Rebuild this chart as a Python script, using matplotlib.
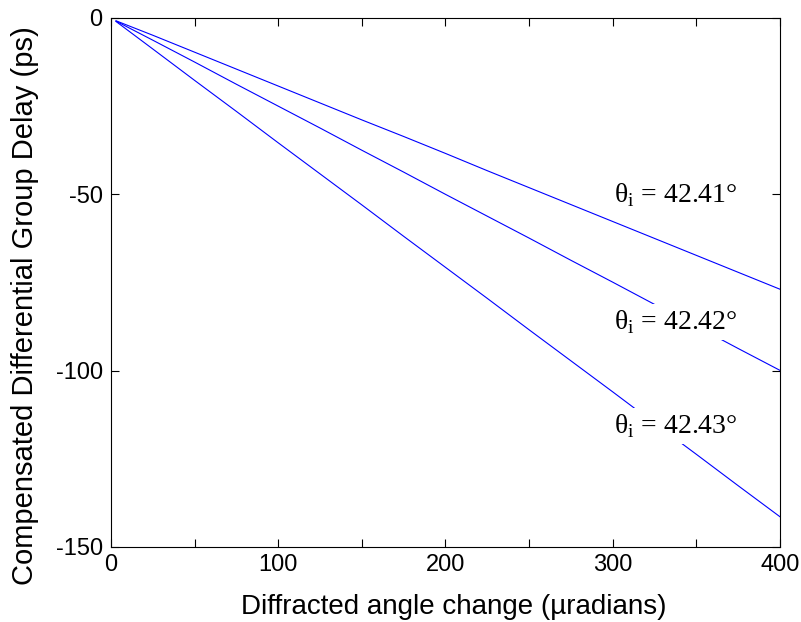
import numpy as np
import matplotlib.pyplot as plt

plt.rcParams['font.family'] = ['Liberation Sans', 'DejaVu Sans']
plt.rcParams['axes.unicode_minus'] = False
plt.rcParams['mathtext.fontset'] = 'custom'
plt.rcParams['mathtext.rm'] = 'Liberation Serif'

# angle change (µradians) and compensated DGD (ps) for three incidence angles
angulo = [3, 25, 50, 75, 100, 125, 150, 175, 200, 225, 250, 275, 300, 325, 350, 375, 400]
dgd_4241 = [-0.8, -4.9, -9.7, -14.5, -19.3, -24.1, -28.9, -33.6, -38.4, -43.3,
            -48.1, -52.9, -57.7, -62.5, -67.3, -72.1, -76.9]
dgd_4242 = [-0.9, -6.3, -12.5, -18.8, -25.0, -31.2, -37.5, -43.7, -50.0, -56.2,
            -62.4, -68.7, -74.9, -81.2, -87.4, -93.7, -99.9]
dgd_4243 = [-1.0, -8.8, -17.7, -26.5, -35.4, -44.2, -53.0, -61.9, -70.7, -79.5,
            -88.4, -97.2, -106.0, -114.9, -123.7, -132.6, -141.4]
rotulos = ['42.41', '42.42', '42.43']
rotulo_y = [-50.2, -86.3, -115.7]

xticks = [0, 50, 100, 150, 200, 250, 300, 350, 400]
xticklabels = ['0', '', '100', '', '200', '', '300', '', '400']
yticks = [0, -50, -100, -150]

fig = plt.figure(figsize=(8.01, 6.22), dpi=100)
ax = fig.add_axes([0.1386, 0.1206, 0.835, 0.8505])

for serie in (dgd_4241, dgd_4242, dgd_4243):
    ax.plot(angulo, serie, color='blue', lw=0.8, zorder=2)

# labels with white background cut the curves like in the original
for r, yl in zip(rotulos, rotulo_y):
    ax.text(301.0, yl, 'θ$_\\mathregular{i}$ = ' + r + '°', family='Liberation Serif',
            fontsize=20, ha='left', va='center', zorder=3,
            bbox=dict(facecolor='white', edgecolor='none', pad=3))

ax.set_xlim(0, 400)
ax.set_ylim(-150, 0)
ax.set_xticks(xticks)
ax.set_xticklabels(xticklabels)
ax.set_yticks(yticks)
ax.tick_params(direction='in', length=5.5, width=0.8, top=True, right=True,
               labelsize=17)
ax.tick_params(axis='x', pad=5)
ax.tick_params(axis='y', pad=6)
for s in ax.spines.values():
    s.set_linewidth(0.8)

ax.set_xlabel('Diffracted angle change (µradians)', fontsize=20)
ax.set_ylabel('Compensated Differential Group Delay (ps)', fontsize=21)
ax.xaxis.set_label_coords(0.513, -0.088)
ax.yaxis.set_label_coords(-0.108, 0.4565)

fig.savefig('out.png', dpi=100)
